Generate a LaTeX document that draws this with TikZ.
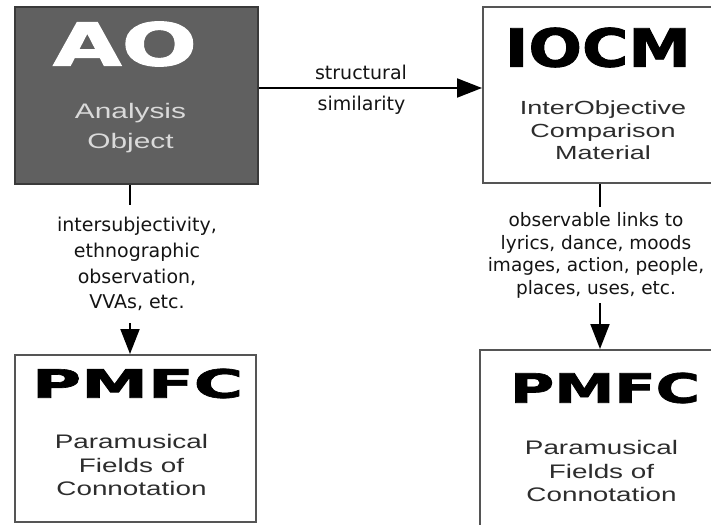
\documentclass[tikz,border=0pt]{standalone}
\usepackage{fontspec}
\setmainfont{DejaVu Sans}
\newfontfamily\titlefont{DejaVu Sans Bold}[FakeBold=1.6]
\newfontfamily\subfont{Liberation Sans}[FakeStretch=1.42]
\usetikzlibrary{arrows.meta}
\definecolor{aofill}{RGB}{96,96,96}
\definecolor{aoborder}{RGB}{58,58,58}
\definecolor{boxgray}{RGB}{85,85,85}
\definecolor{subdark}{RGB}{45,45,45}
\definecolor{sublight}{RGB}{218,218,218}
\definecolor{labgray}{RGB}{20,20,20}
\tikzset{
  boxnode/.style={draw=boxgray, line width=2pt, inner sep=0pt, fill=white},
  titlenode/.style={inner sep=0pt, anchor=center},
  subnode/.style={inner sep=0pt, align=center, text=subdark},
  labnode/.style={align=center, fill=white, inner xsep=2pt, text=labgray},
  arr/.style={line width=2pt, draw=black, -{Triangle[length=25pt,width=19pt]}}
}
\begin{document}
\begin{tikzpicture}[x=1pt,y=-1pt]
\useasboundingbox (0,0) rectangle (711,524);
\clip (0,0) rectangle (711,524);

% boxes
\node[boxnode, draw=aoborder, fill=aofill, minimum width=243pt, minimum height=177pt] (AO) at (136.5,95.5) {};
\node[boxnode, minimum width=257pt, minimum height=176pt] (IOCM) at (611.5,95) {};
\node[boxnode, minimum width=241pt, minimum height=167pt] (PL) at (135.5,438.5) {};
\node[boxnode, minimum width=260pt, minimum height=210pt] (PR) at (610,455) {};

% titles
\node[titlenode, text=white] (AOt) at (125,44) {\resizebox{144pt}{44pt}{\titlefont AO}};
\node[titlenode, text=black] (IOCMt) at (598,47.5) {\resizebox{186pt}{39pt}{\titlefont IOCM}};
\node[titlenode, text=black] (PLt) at (137.5,383.5) {\resizebox{211pt}{29pt}{\titlefont PMFC}};
\node[titlenode, text=black] (PRt) at (605,388) {\resizebox{190pt}{30pt}{\titlefont PMFC}};

% subtitles
\node[subnode, text=sublight, font=\subfont\fontsize{21}{30}\selectfont] (AOs) at (130.5,128) {Analysis\\Object};
\node[subnode, font=\subfont\fontsize{19}{22.5}\selectfont] (IOCMs) at (603,130.5) {InterObjective\\Comparison\\Material};
\node[subnode, font=\subfont\fontsize{19.6}{23.7}\selectfont] (PLs) at (131.5,465) {Paramusical\\Fields of\\Connotation};
\node[subnode, font=\subfont\fontsize{19.6}{23.5}\selectfont] (PRs) at (601.5,471.3) {Paramusical\\Fields of\\Connotation};

% connector positions
\coordinate (hy) at (0,88);
\coordinate (lx) at (130,0);
\coordinate (rx) at (600,0);

% arrows
\draw[arr] (AO.east |- hy) -- (IOCM.west |- hy);
\draw[arr] (AO.south -| lx) -- (PL.north -| lx);
\draw[arr] (IOCM.south -| rx) -- (PR.north -| rx);

% labels
\node[anchor=base, inner sep=0pt, text=labgray, font=\fontsize{19}{23}\selectfont] (l1) at (361,80) {structural};
\node[anchor=base, inner sep=0pt, text=labgray, font=\fontsize{19}{23}\selectfont] (l2) at (361.5,110.5) {similarity};
\node[labnode, inner ysep=12pt, font=\fontsize{19}{25.9}\selectfont] (l3) at (137,264) {intersubjectivity,\\ethnographic\\observation,\\VVAs, etc.};
\node[labnode, inner ysep=5pt, font=\fontsize{18.5}{22.8}\selectfont] (l4) at (596,255.3) {observable links to\\lyrics, dance, moods\\images, action, people,\\places, uses, etc.};
\end{tikzpicture}
\end{document}
